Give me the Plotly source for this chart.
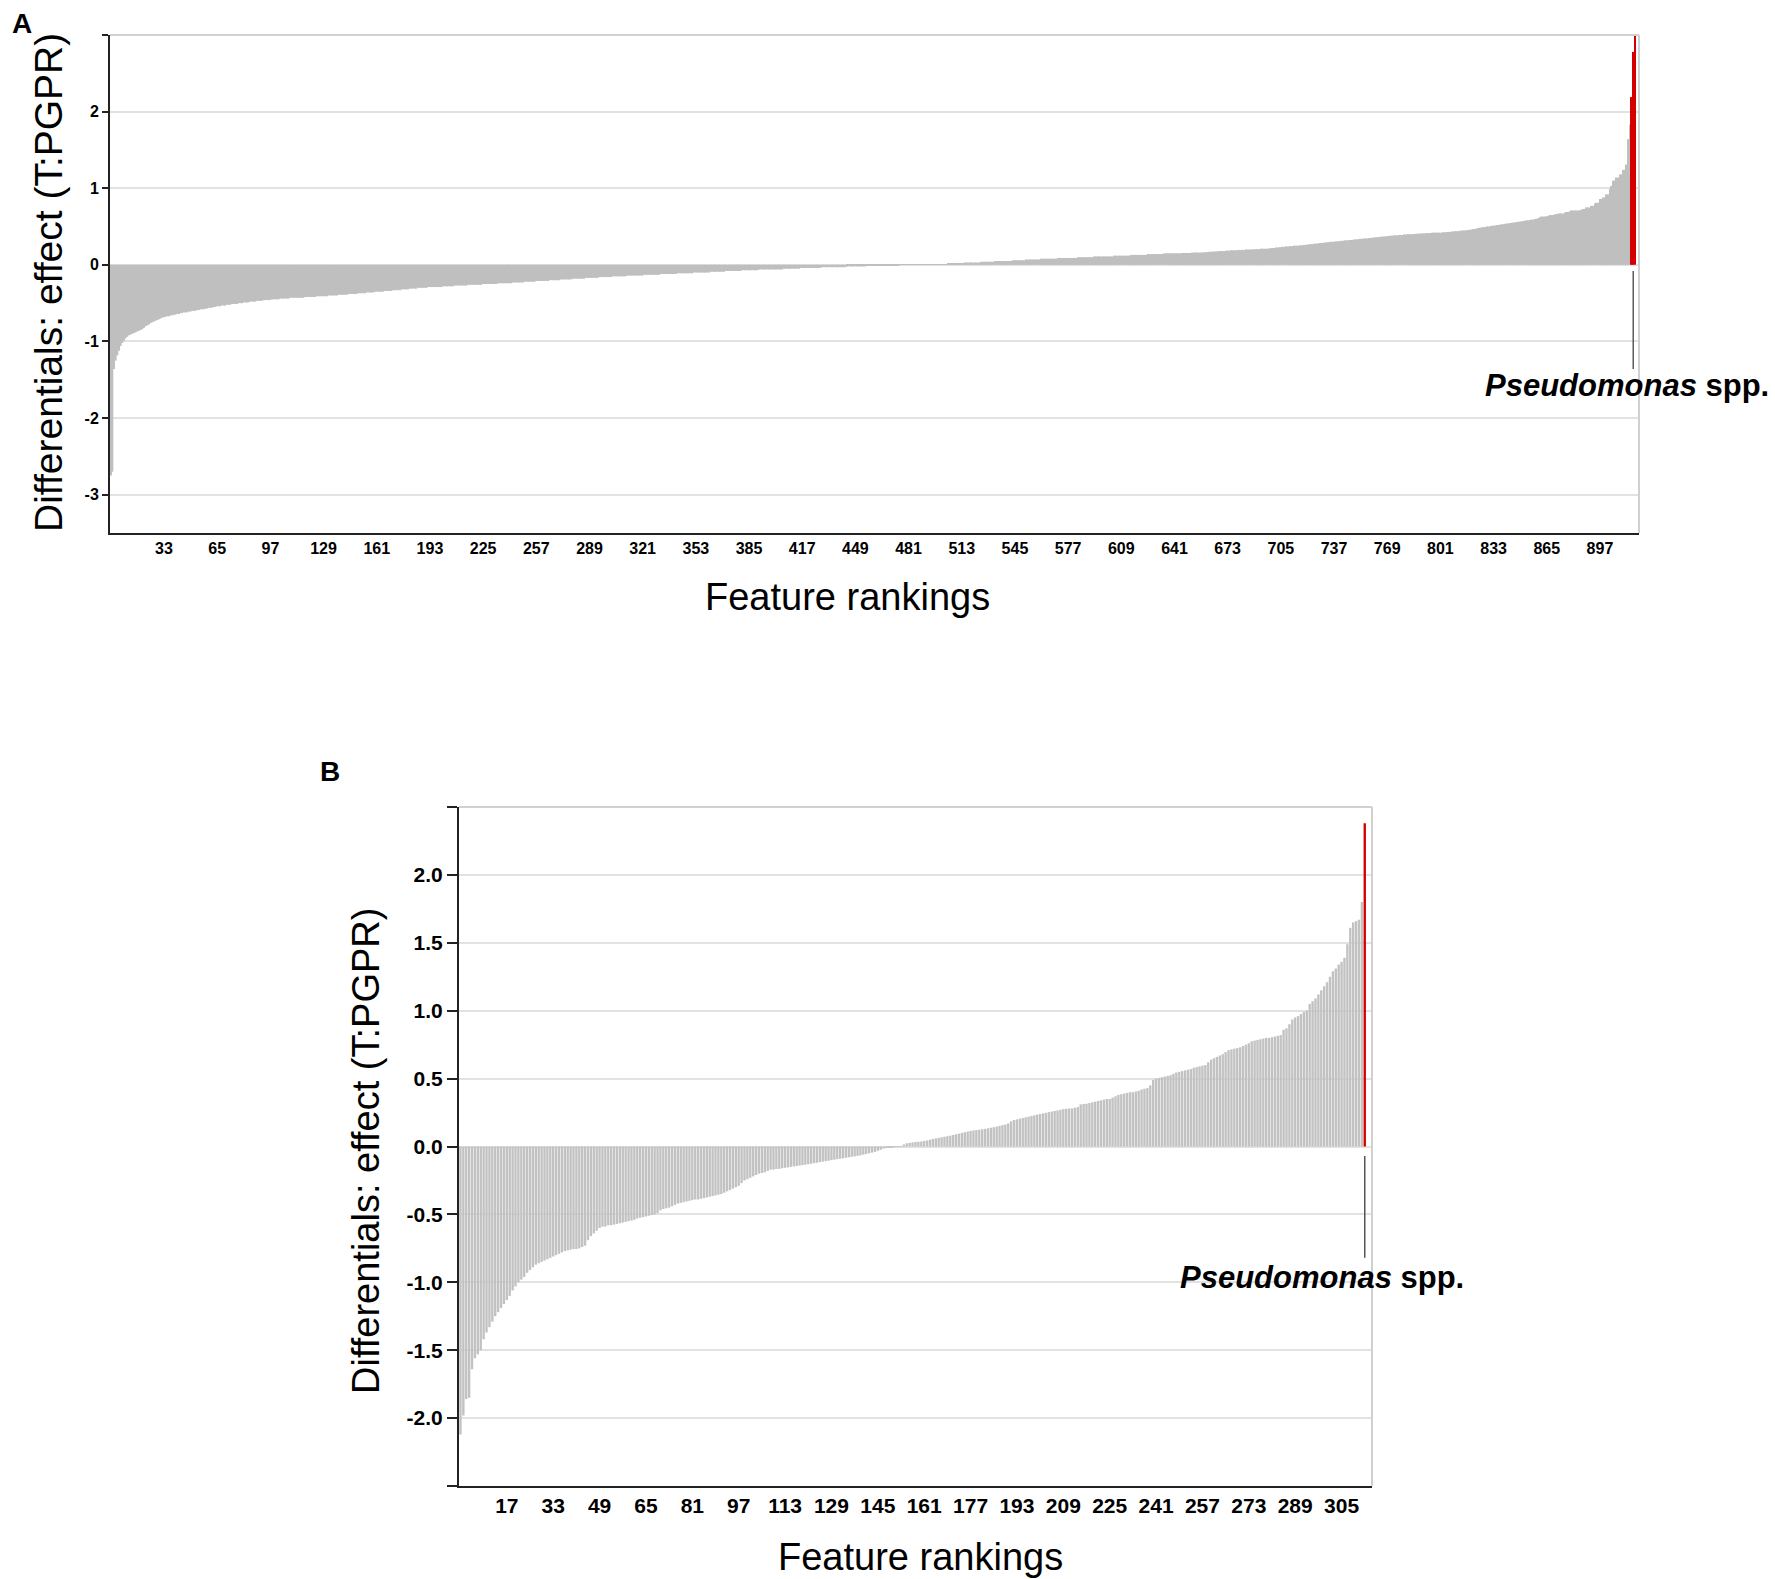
import plotly.graph_objects as go

FONT = 'Liberation Sans, Arial, Helvetica, sans-serif'
GREY = '#bfbfbf'
RED = '#d40000'

## PANEL A DATA (ranked differentials, 918 features)
a_effect = [
    -2.75, -2.70, -1.36, -1.25, -1.18, -1.12, -1.06, -1.02, -0.99, -0.96, -0.94, -0.92, -0.91, -0.90, -0.89, -0.88, -0.87, -0.86, -0.85, -0.84,
    -0.82, -0.80, -0.79, -0.78, -0.76, -0.75, -0.74, -0.73, -0.72, -0.71, -0.70, -0.69, -0.68, -0.68, -0.67, -0.67, -0.66, -0.66, -0.65, -0.65,
    -0.64, -0.64, -0.63, -0.63, -0.62, -0.62, -0.62, -0.61, -0.61, -0.60, -0.60, -0.60, -0.59, -0.59, -0.58, -0.58, -0.58, -0.57, -0.57, -0.56,
    -0.56, -0.56, -0.55, -0.55, -0.54, -0.54, -0.54, -0.53, -0.53, -0.53, -0.52, -0.52, -0.52, -0.51, -0.51, -0.51, -0.51, -0.50, -0.50, -0.50,
    -0.49, -0.49, -0.49, -0.49, -0.48, -0.48, -0.48, -0.48, -0.47, -0.47, -0.47, -0.47, -0.46, -0.46, -0.46, -0.46, -0.46, -0.45, -0.45, -0.45,
    -0.45, -0.45, -0.44, -0.44, -0.44, -0.44, -0.44, -0.44, -0.43, -0.43, -0.43, -0.43, -0.43, -0.43, -0.43, -0.43, -0.43, -0.42, -0.42, -0.42,
    -0.42, -0.42, -0.42, -0.42, -0.41, -0.41, -0.41, -0.41, -0.41, -0.41, -0.41, -0.40, -0.40, -0.40, -0.40, -0.40, -0.40, -0.39, -0.39, -0.39,
    -0.39, -0.39, -0.39, -0.38, -0.38, -0.38, -0.38, -0.38, -0.38, -0.37, -0.37, -0.37, -0.37, -0.37, -0.36, -0.36, -0.36, -0.36, -0.36, -0.35,
    -0.35, -0.35, -0.35, -0.35, -0.35, -0.34, -0.34, -0.34, -0.34, -0.34, -0.33, -0.33, -0.33, -0.33, -0.33, -0.32, -0.32, -0.32, -0.32, -0.32,
    -0.31, -0.31, -0.31, -0.31, -0.31, -0.30, -0.30, -0.30, -0.30, -0.30, -0.30, -0.29, -0.29, -0.29, -0.29, -0.29, -0.29, -0.29, -0.29, -0.29,
    -0.28, -0.28, -0.28, -0.28, -0.28, -0.28, -0.28, -0.27, -0.27, -0.27, -0.27, -0.27, -0.27, -0.27, -0.27, -0.26, -0.26, -0.26, -0.26, -0.26,
    -0.26, -0.26, -0.26, -0.26, -0.25, -0.25, -0.25, -0.25, -0.25, -0.25, -0.25, -0.25, -0.25, -0.24, -0.24, -0.24, -0.24, -0.24, -0.24, -0.24,
    -0.24, -0.24, -0.23, -0.23, -0.23, -0.23, -0.23, -0.23, -0.23, -0.22, -0.22, -0.22, -0.22, -0.22, -0.22, -0.22, -0.21, -0.21, -0.21, -0.21,
    -0.21, -0.21, -0.21, -0.21, -0.20, -0.20, -0.20, -0.20, -0.20, -0.20, -0.20, -0.19, -0.19, -0.19, -0.19, -0.19, -0.19, -0.19, -0.18, -0.18,
    -0.18, -0.18, -0.18, -0.18, -0.18, -0.18, -0.17, -0.17, -0.17, -0.17, -0.17, -0.17, -0.17, -0.17, -0.16, -0.16, -0.16, -0.16, -0.16, -0.16,
    -0.16, -0.16, -0.15, -0.15, -0.15, -0.15, -0.15, -0.15, -0.15, -0.15, -0.15, -0.14, -0.14, -0.14, -0.14, -0.14, -0.14, -0.14, -0.14, -0.14,
    -0.14, -0.13, -0.13, -0.13, -0.13, -0.13, -0.13, -0.13, -0.13, -0.13, -0.13, -0.12, -0.12, -0.12, -0.12, -0.12, -0.12, -0.12, -0.12, -0.12,
    -0.12, -0.11, -0.11, -0.11, -0.11, -0.11, -0.11, -0.11, -0.11, -0.11, -0.11, -0.10, -0.10, -0.10, -0.10, -0.10, -0.10, -0.10, -0.10, -0.10,
    -0.10, -0.09, -0.09, -0.09, -0.09, -0.09, -0.09, -0.09, -0.09, -0.09, -0.08, -0.08, -0.08, -0.08, -0.08, -0.08, -0.08, -0.08, -0.08, -0.08,
    -0.07, -0.07, -0.07, -0.07, -0.07, -0.07, -0.07, -0.07, -0.07, -0.07, -0.06, -0.06, -0.06, -0.06, -0.06, -0.06, -0.06, -0.06, -0.06, -0.06,
    -0.06, -0.06, -0.06, -0.06, -0.06, -0.05, -0.05, -0.05, -0.05, -0.05, -0.05, -0.05, -0.05, -0.05, -0.05, -0.04, -0.04, -0.04, -0.04, -0.04,
    -0.04, -0.04, -0.04, -0.04, -0.04, -0.04, -0.04, -0.04, -0.03, -0.03, -0.03, -0.03, -0.03, -0.03, -0.03, -0.03, -0.03, -0.03, -0.03, -0.03,
    -0.03, -0.03, -0.03, -0.02, -0.02, -0.02, -0.02, -0.02, -0.02, -0.02, -0.02, -0.02, -0.02, -0.02, -0.02, -0.01, -0.01, -0.01, -0.01, -0.01,
    -0.01, -0.01, -0.01, -0.01, -0.01, -0.01, -0.01, -0.01, -0.01, -0.01, -0.005, -0.005, -0.005, -0.005, -0.005, 0.005, 0.005, 0.005, 0.005, 0.005,
    0.005, 0.005, 0.005, 0.005, 0.01, 0.01, 0.01, 0.01, 0.01, 0.01, 0.01, 0.01, 0.01, 0.01, 0.01, 0.01, 0.01, 0.01, 0.01, 0.01,
    0.01, 0.01, 0.01, 0.01, 0.02, 0.02, 0.02, 0.02, 0.02, 0.02, 0.02, 0.02, 0.02, 0.02, 0.03, 0.03, 0.03, 0.03, 0.03, 0.03,
    0.03, 0.03, 0.03, 0.03, 0.04, 0.04, 0.04, 0.04, 0.04, 0.04, 0.04, 0.04, 0.05, 0.05, 0.05, 0.05, 0.05, 0.05, 0.05, 0.05,
    0.05, 0.05, 0.05, 0.06, 0.06, 0.06, 0.06, 0.06, 0.06, 0.06, 0.06, 0.07, 0.07, 0.07, 0.07, 0.07, 0.07, 0.07, 0.07, 0.07,
    0.08, 0.08, 0.08, 0.08, 0.08, 0.08, 0.08, 0.08, 0.08, 0.08, 0.09, 0.09, 0.09, 0.09, 0.09, 0.09, 0.09, 0.09, 0.09, 0.09,
    0.09, 0.09, 0.10, 0.10, 0.10, 0.10, 0.10, 0.10, 0.10, 0.10, 0.10, 0.10, 0.11, 0.11, 0.11, 0.11, 0.11, 0.11, 0.11, 0.11,
    0.11, 0.11, 0.11, 0.11, 0.12, 0.12, 0.12, 0.12, 0.12, 0.12, 0.12, 0.12, 0.12, 0.12, 0.13, 0.13, 0.13, 0.13, 0.13, 0.13,
    0.13, 0.13, 0.13, 0.13, 0.14, 0.14, 0.14, 0.14, 0.14, 0.14, 0.14, 0.14, 0.14, 0.14, 0.15, 0.15, 0.15, 0.15, 0.15, 0.15,
    0.15, 0.15, 0.15, 0.15, 0.15, 0.155, 0.155, 0.155, 0.155, 0.155, 0.155, 0.16, 0.16, 0.16, 0.16, 0.16, 0.16, 0.16, 0.165, 0.165,
    0.165, 0.17, 0.17, 0.17, 0.175, 0.175, 0.175, 0.18, 0.18, 0.18, 0.18, 0.185, 0.185, 0.185, 0.19, 0.19, 0.19, 0.19, 0.19, 0.195,
    0.195, 0.195, 0.195, 0.20, 0.20, 0.20, 0.20, 0.20, 0.205, 0.205, 0.205, 0.205, 0.21, 0.21, 0.21, 0.21, 0.21, 0.215, 0.215, 0.22,
    0.22, 0.225, 0.225, 0.23, 0.23, 0.235, 0.235, 0.24, 0.24, 0.24, 0.245, 0.245, 0.25, 0.25, 0.25, 0.25, 0.255, 0.255, 0.26, 0.26,
    0.265, 0.265, 0.27, 0.27, 0.275, 0.275, 0.28, 0.28, 0.285, 0.285, 0.29, 0.29, 0.295, 0.295, 0.30, 0.30, 0.30, 0.305, 0.305, 0.31,
    0.31, 0.315, 0.315, 0.32, 0.32, 0.32, 0.325, 0.325, 0.33, 0.33, 0.335, 0.335, 0.34, 0.34, 0.345, 0.345, 0.345, 0.35, 0.35, 0.355,
    0.355, 0.36, 0.36, 0.365, 0.365, 0.37, 0.37, 0.37, 0.375, 0.375, 0.38, 0.38, 0.385, 0.385, 0.385, 0.39, 0.39, 0.39, 0.395, 0.395,
    0.395, 0.40, 0.40, 0.40, 0.40, 0.405, 0.405, 0.405, 0.41, 0.41, 0.41, 0.41, 0.415, 0.415, 0.415, 0.42, 0.42, 0.42, 0.42, 0.42,
    0.42, 0.42, 0.425, 0.425, 0.43, 0.43, 0.43, 0.435, 0.435, 0.44, 0.44, 0.44, 0.445, 0.445, 0.45, 0.45, 0.45, 0.455, 0.46, 0.46,
    0.465, 0.47, 0.475, 0.48, 0.485, 0.49, 0.49, 0.495, 0.50, 0.50, 0.505, 0.51, 0.51, 0.515, 0.52, 0.52, 0.525, 0.53, 0.53, 0.535,
    0.54, 0.54, 0.545, 0.55, 0.55, 0.555, 0.56, 0.56, 0.565, 0.57, 0.57, 0.575, 0.58, 0.58, 0.585, 0.59, 0.59, 0.60, 0.60, 0.61,
    0.62, 0.63, 0.63, 0.63, 0.63, 0.64, 0.65, 0.65, 0.65, 0.66, 0.66, 0.67, 0.67, 0.67, 0.67, 0.68, 0.69, 0.69, 0.70, 0.71,
    0.71, 0.71, 0.71, 0.71, 0.71, 0.72, 0.73, 0.73, 0.75, 0.75, 0.75, 0.77, 0.77, 0.80, 0.81, 0.81, 0.86, 0.86, 0.88, 0.88,
    0.92, 0.92, 0.99, 1.03, 1.10, 1.10, 1.14, 1.14, 1.18, 1.18, 1.24, 1.24, 1.31, 1.64, 1.83, 2.19, 2.78, 3.00,
]
a_highlight = [916, 917, 918]   # Pseudomonas spp. features
a_xticks = [33, 65, 97, 129, 161, 193, 225, 257, 289, 321, 353, 385, 417, 449,
            481, 513, 545, 577, 609, 641, 673, 705, 737, 769, 801, 833, 865, 897]
a_yticks = [3, 2, 1, 0, -1, -2, -3]
a_ylabels = ['', '2', '1', '0', '-1', '-2', '-3']

## PANEL B DATA (ranked differentials, 313 features)
b_effect = [
    -2.12, -1.98, -1.86, -1.85, -1.64, -1.56, -1.53, -1.50, -1.42, -1.37, -1.33, -1.29, -1.25, -1.22, -1.19, -1.16, -1.13, -1.10, -1.06, -1.03,
    -1.00, -0.98, -0.96, -0.93, -0.91, -0.89, -0.87, -0.86, -0.85, -0.84, -0.83, -0.82, -0.81, -0.80, -0.79, -0.78, -0.77, -0.765, -0.76, -0.755,
    -0.755, -0.75, -0.74, -0.73, -0.69, -0.66, -0.64, -0.62, -0.60, -0.59, -0.59, -0.58, -0.58, -0.575, -0.57, -0.565, -0.56, -0.555, -0.55, -0.545,
    -0.54, -0.53, -0.525, -0.52, -0.515, -0.51, -0.505, -0.50, -0.49, -0.47, -0.46, -0.455, -0.45, -0.44, -0.43, -0.42, -0.415, -0.41, -0.405, -0.40,
    -0.395, -0.39, -0.39, -0.385, -0.38, -0.375, -0.37, -0.365, -0.36, -0.355, -0.35, -0.34, -0.33, -0.32, -0.31, -0.30, -0.29, -0.27, -0.25, -0.24,
    -0.23, -0.22, -0.21, -0.20, -0.195, -0.19, -0.18, -0.17, -0.17, -0.165, -0.165, -0.16, -0.157, -0.154, -0.15, -0.147, -0.144, -0.14, -0.137, -0.134,
    -0.13, -0.127, -0.123, -0.12, -0.115, -0.112, -0.108, -0.105, -0.10, -0.097, -0.093, -0.09, -0.087, -0.083, -0.08, -0.076, -0.073, -0.069, -0.065, -0.06,
    -0.055, -0.05, -0.045, -0.04, -0.032, -0.024, -0.015, -0.008, -0.005, -0.004, -0.003, -0.002, 0.003, 0.015, 0.024, 0.027, 0.03, 0.033, 0.035, 0.037,
    0.041, 0.045, 0.05, 0.055, 0.06, 0.064, 0.068, 0.072, 0.076, 0.08, 0.085, 0.09, 0.095, 0.10, 0.105, 0.11, 0.115, 0.118, 0.121, 0.124,
    0.127, 0.13, 0.134, 0.138, 0.142, 0.147, 0.152, 0.157, 0.162, 0.17, 0.185, 0.195, 0.20, 0.205, 0.21, 0.215, 0.22, 0.225, 0.23, 0.235,
    0.24, 0.244, 0.248, 0.253, 0.257, 0.262, 0.266, 0.27, 0.275, 0.278, 0.28, 0.28, 0.285, 0.29, 0.31, 0.313, 0.315, 0.32, 0.325, 0.33,
    0.335, 0.34, 0.345, 0.35, 0.35, 0.36, 0.37, 0.38, 0.385, 0.39, 0.395, 0.40, 0.40, 0.405, 0.41, 0.42, 0.425, 0.43, 0.45, 0.49,
    0.50, 0.505, 0.51, 0.515, 0.52, 0.525, 0.535, 0.545, 0.55, 0.555, 0.56, 0.565, 0.57, 0.58, 0.585, 0.59, 0.595, 0.60, 0.62, 0.64,
    0.65, 0.66, 0.67, 0.68, 0.695, 0.71, 0.715, 0.72, 0.725, 0.73, 0.74, 0.75, 0.76, 0.775, 0.78, 0.785, 0.79, 0.795, 0.80, 0.80,
    0.805, 0.81, 0.815, 0.82, 0.86, 0.87, 0.90, 0.935, 0.95, 0.96, 0.975, 0.99, 1.00, 1.05, 1.07, 1.09, 1.12, 1.15, 1.18, 1.21,
    1.25, 1.29, 1.31, 1.34, 1.36, 1.39, 1.49, 1.61, 1.65, 1.66, 1.67, 1.80, 2.38,
]
b_highlight = [313]
b_xticks = [17, 33, 49, 65, 81, 97, 113, 129, 145, 161, 177, 193, 209, 225, 241, 257, 273, 289, 305]
b_yticks = [2.5, 2.0, 1.5, 1.0, 0.5, 0.0, -0.5, -1.0, -1.5, -2.0, -2.5]
b_ylabels = ['', '2.0', '1.5', '1.0', '0.5', '0.0', '-0.5', '-1.0', '-1.5', '-2.0', '']

a_rank = list(range(1, len(a_effect) + 1))
b_rank = list(range(1, len(b_effect) + 1))
a_colors = [RED if r in a_highlight else GREY for r in a_rank]
b_colors = [RED if r in b_highlight else '#c2c2c2' for r in b_rank]

W, H = 1775, 1579
px_x = lambda v: v / W
px_y = lambda v: 1 - v / H

fig = go.Figure()
fig.add_trace(go.Bar(x=a_rank, y=a_effect, width=1.0, marker=dict(color=a_colors, line_width=0),
                     xaxis='x', yaxis='y', showlegend=False))
fig.add_trace(go.Bar(x=b_rank, y=b_effect, width=0.82, marker=dict(color=b_colors, line_width=0),
                     xaxis='x2', yaxis='y2', showlegend=False))

axis_common = dict(showline=True, linecolor='#222222', linewidth=2, zeroline=False,
                   tickfont=dict(family=FONT, color='black', weight='bold'))

fig.update_layout(
    width=W, height=H, autosize=False,
    margin=dict(l=0, r=0, t=0, b=0),
    paper_bgcolor='white', plot_bgcolor='white',
    font=dict(family=FONT, color='black'),
    xaxis=dict(domain=[px_x(110), px_x(1639)], anchor='y', range=[0.5, 920.5],
               tickvals=a_xticks, ticks='', showgrid=False, **axis_common),
    yaxis=dict(domain=[px_y(533), px_y(35)], anchor='x', range=[-3.5, 3],
               tickvals=a_yticks, ticktext=a_ylabels, ticks='outside', ticklen=6,
               tickcolor='#222222', tickwidth=2, showgrid=True, gridcolor='#e2e2e2',
               gridwidth=1.5, **axis_common),
    xaxis2=dict(domain=[px_x(459), px_x(1372)], anchor='y2', range=[0.5, 315.5],
                tickvals=b_xticks, ticks='', showgrid=False, **axis_common),
    yaxis2=dict(domain=[px_y(1486), px_y(807)], anchor='x2', range=[-2.5, 2.5],
                tickvals=b_yticks, ticktext=b_ylabels, ticks='outside', ticklen=10,
                tickcolor='#222222', tickwidth=2, showgrid=True, gridcolor='#e2e2e2',
                gridwidth=1.5, **axis_common),
)
fig.update_xaxes(tickfont_size=16, selector=dict(anchor='y'))
fig.update_yaxes(tickfont_size=16, selector=dict(anchor='x'))
fig.update_xaxes(tickfont_size=21, selector=dict(anchor='y2'))
fig.update_yaxes(tickfont_size=21, selector=dict(anchor='x2'))

# light grey top / right frame
for xr, yr in (('x domain', 'y domain'), ('x2 domain', 'y2 domain')):
    fig.add_shape(type='line', xref=xr, yref=yr, x0=0, x1=1, y0=1, y1=1,
                  line=dict(color='#d0d0d0', width=2))
    fig.add_shape(type='line', xref=xr, yref=yr, x0=1, x1=1, y0=0, y1=1,
                  line=dict(color='#d0d0d0', width=2))

# leader lines to the Pseudomonas label
fig.add_shape(type='line', xref='x', yref='y', x0=a_highlight[1], x1=a_highlight[1],
              y0=-0.08, y1=-1.36, line=dict(color='#333333', width=1.2))
fig.add_shape(type='line', xref='x2', yref='y2', x0=b_highlight[0], x1=b_highlight[0],
              y0=-0.07, y1=-0.82, line=dict(color='#555555', width=1.5))

title_font = dict(family=FONT, size=38, color='black')
label = '<b><i>Pseudomonas</i> spp.</b>'
annots = [
    dict(text='<b>A</b>', x=px_x(22), y=px_y(24), font=dict(family=FONT, size=28)),
    dict(text='<b>B</b>', x=px_x(330), y=px_y(772), font=dict(family=FONT, size=28)),
    dict(text='Differentials: effect (T:PGPR)', x=px_x(48), y=px_y(283), textangle=-90,
         font=dict(family=FONT, size=39, color='black')),
    dict(text='Feature rankings', x=px_x(847), y=px_y(597), font=title_font),
    dict(text='Differentials: effect (T:PGPR)', x=px_x(366), y=px_y(1151), textangle=-90, font=title_font),
    dict(text='Feature rankings', x=px_x(921), y=px_y(1557), font=title_font),
    dict(text=label, x=px_x(1627), y=px_y(385), font=dict(family=FONT, size=31)),
    dict(text=label, x=px_x(1322), y=px_y(1277), font=dict(family=FONT, size=31)),
]
for a in annots:
    fig.add_annotation(xref='paper', yref='paper', showarrow=False,
                       xanchor='center', yanchor='middle', **a)

# drop the browser's default page margin so the figure fills the window exactly
fig.write_html('out.html', config={'displayModeBar': False},
               post_script="document.body.style.margin='0';")
